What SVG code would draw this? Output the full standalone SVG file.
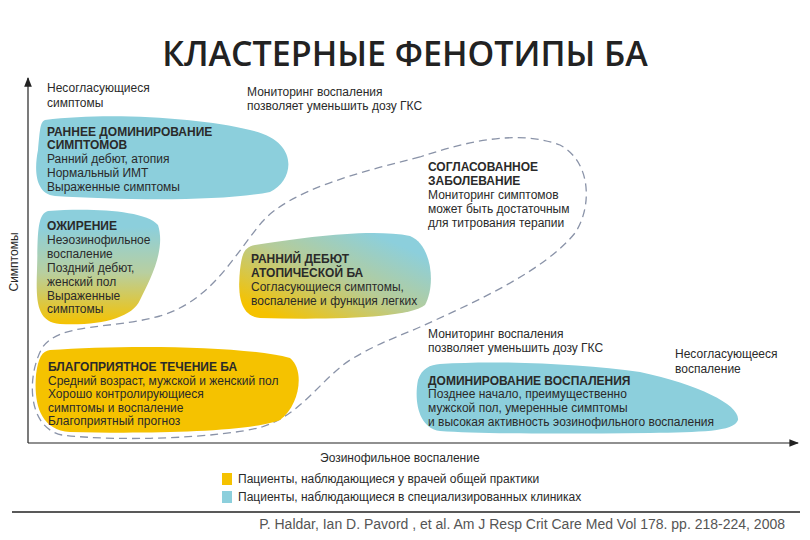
<svg xmlns="http://www.w3.org/2000/svg" width="810" height="540" viewBox="0 0 810 540">
<style>
text{font-family:"Liberation Sans",Arial,sans-serif;fill:#2a2a2a;font-size:12px}
.b{font-weight:bold}
.t{font-family:"Open Sans","Liberation Sans",sans-serif;font-size:34px;font-weight:600;fill:#222}
.cite{font-size:14px;fill:#555}
</style>
<defs>
<marker id="ar" viewBox="0 0 10 10" refX="9" refY="5" markerWidth="8" markerHeight="8" orient="auto"><path d="M0,1 L10,5 L0,9 Z" fill="#222"/></marker>
<linearGradient id="g1" x1="0" y1="0" x2="0" y2="1"><stop offset="0.15" stop-color="#8ccfdc"/><stop offset="0.55" stop-color="#b8cfa0"/><stop offset="1" stop-color="#f5c200"/></linearGradient>
<linearGradient id="g2" x1="0" y1="1" x2="1" y2="0"><stop offset="0.1" stop-color="#f5c200"/><stop offset="0.5" stop-color="#b6cc98"/><stop offset="0.85" stop-color="#8ccfdc"/></linearGradient>
</defs>
<text class="t" x="405" y="66" text-anchor="middle">КЛАСТЕРНЫЕ ФЕНОТИПЫ БА</text>
<g id="axes" stroke="#222" stroke-width="1.2" fill="none">
<line x1="28" y1="443" x2="28" y2="78" marker-end="url(#ar)"/>
<line x1="28" y1="443" x2="798" y2="443" marker-end="url(#ar)"/>
</g>
<text x="18" y="262" transform="rotate(-90 18 262)" text-anchor="middle">Симптомы</text>
<text x="320" y="462">Эозинофильное воспаление</text>
<text x="47" y="92">Несогласующиеся</text><text x="47" y="107">симптомы</text>
<text x="247" y="96">Мониторинг воспаления</text><text x="247" y="110">позволяет уменьшить дозу ГКС</text>
<g id="connectors">
<path d="M420,157 C360,172 290,190 262,222 C232,258 212,300 160,316 C110,330 60,322 42,348 C26,378 28,428 62,435 C120,442 220,438 262,427 C302,414 320,380 350,360 C380,342 400,336 420,327 C480,300 545,270 575,233 C592,208 592,162 560,145 C520,130 470,140 420,157 Z" fill="none" stroke="#8a93a8" stroke-width="1.3" stroke-dasharray="8,5"/>
</g>
<g id="n1">
<path d="M45,120 C110,112 200,118 250,130 C300,140 295,180 270,192 C220,202 120,200 55,196 C35,194 34,170 38,150 C40,130 40,122 45,120 Z" fill="#8ccfdc"/>
<text class="b" x="47" y="136">РАННЕЕ ДОМИНИРОВАНИЕ</text><text class="b" x="47" y="149">СИМПТОМОВ</text>
<text x="47" y="163">Ранний дебют, атопия</text><text x="47" y="177">Нормальный ИМТ</text><text x="47" y="191">Выраженные симптомы</text>
</g>
<g id="n2">
<path d="M48,211 C90,208 145,210 158,225 C166,250 150,280 140,300 C132,318 100,326 60,324 C36,322 36,300 37,270 C38,240 36,214 48,211 Z" fill="url(#g1)"/>
<text class="b" x="47" y="230">ОЖИРЕНИЕ</text>
<text x="47" y="244">Неэозинофильное</text><text x="47" y="258">воспаление</text><text x="47" y="272">Поздний дебют,</text><text x="47" y="286">женский пол</text><text x="47" y="300">Выраженные</text><text x="47" y="313">симптомы</text>
</g>
<g id="n3">
<path d="M255,245 C300,238 370,228 410,236 C432,245 436,285 425,305 C410,318 330,320 260,318 C238,316 238,290 240,270 C242,252 245,247 255,245 Z" fill="url(#g2)"/>
<text class="b" x="251" y="263">РАННИЙ ДЕБЮТ</text><text class="b" x="251" y="277">АТОПИЧЕСКОЙ БА</text>
<text x="251" y="291">Согласующиеся симптомы,</text><text x="251" y="305">воспаление и функция легких</text>
</g>
<g id="n4">
<path d="M50,350 C120,345 240,345 290,358 C305,370 300,405 280,420 C250,432 150,434 70,432 C38,430 34,400 36,375 C38,358 42,351 50,350 Z" fill="#f5c200"/>
<text class="b" x="48" y="371">БЛАГОПРИЯТНОЕ ТЕЧЕНИЕ БА</text>
<text x="48" y="385">Средний возраст, мужской и женский пол</text><text x="48" y="398">Хорошо контролирующиеся</text><text x="48" y="412">симптомы и воспаление</text><text x="48" y="425">Благоприятный прогноз</text>
</g>
<g id="n5">
<path d="M440,364 C500,360 580,364 640,372 C700,385 740,405 738,420 C734,432 700,432 650,433 C560,434 480,434 440,431 C418,428 414,400 418,380 C422,368 430,365 440,364 Z" fill="#8ccfdc"/>
<text class="b" x="428" y="385">ДОМИНИРОВАНИЕ ВОСПАЛЕНИЯ</text>
<text x="428" y="398">Позднее начало, преимущественно</text><text x="428" y="412">мужской пол, умеренные симптомы</text><text x="428" y="426">и высокая активность эозинофильного воспаления</text>
</g>
<g id="n6">
<text class="b" x="428" y="171">СОГЛАСОВАННОЕ</text><text class="b" x="428" y="185">ЗАБОЛЕВАНИЕ</text>
<text x="428" y="199">Мониторинг симптомов</text><text x="428" y="213">может быть достаточным</text><text x="428" y="227">для титрования терапии</text>
</g>
<text x="428" y="338">Мониторинг воспаления</text><text x="428" y="352">позволяет уменьшить дозу ГКС</text>
<text x="675" y="358">Несогласующееся</text><text x="675" y="373">воспаление</text>
<g id="legend">
<rect x="222" y="473" width="10" height="12" fill="#f5c200"/>
<rect x="222" y="491" width="10" height="12" fill="#8ccfdc"/>
<text x="238" y="483">Пациенты, наблюдающиеся у врачей общей практики</text>
<text x="238" y="501">Пациенты, наблюдающиеся в специализированных клиниках</text>
</g>
<line x1="12" y1="512" x2="800" y2="512" stroke="#222" stroke-width="1.5"/>
<text class="cite" x="785" y="529" text-anchor="end">P. Haldar, Ian D. Pavord , et al. Am J Resp Crit Care Med Vol 178. pp. 218-224, 2008</text>
</svg>
